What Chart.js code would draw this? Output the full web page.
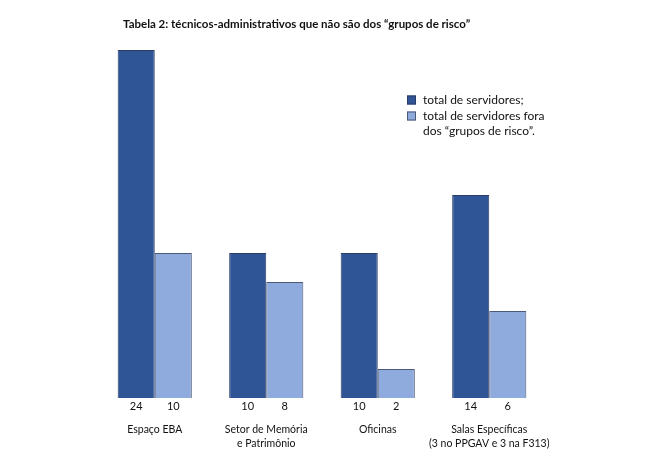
<!DOCTYPE html>
<html>
<head>
<meta charset="utf-8">
<script src="https://cdn.jsdelivr.net/npm/chart.js@4"></script>
<style>
  html, body { margin: 0; padding: 0; background: #fff; }
  #wrap { width: 663px; height: 474px; position: relative; }
</style>
</head>
<body>
<div id="wrap"><canvas id="chart" width="663" height="474"></canvas></div>
<script>
// Data
const categories = [
    ['Espaço EBA'],
    ['Setor de Memória', 'e Patrimônio'],
    ['Oficinas'],
    ['Salas Específicas', '(3 no PPGAV e 3 na F313)']
];
const totalServidores = [24, 10, 10, 14];
const foraGruposRisco = [10, 8, 2, 6];
const seriesLabels = [
    ['total de servidores;'],
    ['total de servidores fora', 'dos “grupos de risco”.']
];
const chartTitle = 'Tabela 2: técnicos-administrativos que não são dos “grupos de risco”';

const FONT = 'Lato, "Open Sans", sans-serif';
const TEXT_COLOR = '#111';

// Draws title, legend, value labels and category labels
const labelsPlugin = {
    id: 'labelsPlugin',
    afterDatasetsDraw(chart) {
        const ctx = chart.ctx;
        const xScale = chart.scales.x;
        const bottom = chart.chartArea.bottom;
        ctx.save();
        ctx.fillStyle = TEXT_COLOR;
        ctx.textBaseline = 'middle';

        // title
        ctx.font = 'bold 11.5px ' + FONT;
        ctx.textAlign = 'left';
        ctx.fillText(chartTitle, 123, 24);

        // value labels under each bar
        ctx.font = '11px ' + FONT;
        ctx.textAlign = 'center';
        chart.data.datasets.forEach((ds, i) => {
            const meta = chart.getDatasetMeta(i);
            meta.data.forEach((bar, j) => {
                ctx.fillText(String(ds.data[j]), bar.x, bottom + 8);
            });
        });

        // category labels
        ctx.font = '10.5px ' + FONT;
        chart.data.labels.forEach((lines, j) => {
            const x = xScale.getPixelForValue(j);
            lines.forEach((line, k) => {
                ctx.fillText(line, x, bottom + 32 + k * 14);
            });
        });

        // legend
        ctx.font = '12px ' + FONT;
        let y = 100;
        chart.data.datasets.forEach((ds, i) => {
            ctx.fillStyle = ds.backgroundColor;
            ctx.fillRect(407, y - 4.5, 9, 9);
            ctx.strokeStyle = ds.borderColor;
            ctx.lineWidth = 1;
            ctx.strokeRect(407.5, y - 4, 8, 8);
            ctx.fillStyle = TEXT_COLOR;
            ctx.textAlign = 'left';
            seriesLabels[i].forEach((line, k) => {
                ctx.fillText(line, 423, y + 0.5 + k * 14.5);
            });
            y += 16;
        });
        ctx.restore();
    }
};

new Chart(document.getElementById('chart'), {
    type: 'bar',
    data: {
        labels: categories,
        datasets: [
            {
                label: 'total de servidores',
                data: totalServidores,
                backgroundColor: '#2f5597',
                borderColor: '#2a3d66',
                borderWidth: 1,
                categoryPercentage: 0.665,
                barPercentage: 1
            },
            {
                label: 'total de servidores fora dos grupos de risco',
                data: foraGruposRisco,
                backgroundColor: '#8faadc',
                borderColor: '#4a5a78',
                borderWidth: 1,
                categoryPercentage: 0.665,
                barPercentage: 1
            }
        ]
    },
    options: {
        responsive: false,
        animation: false,
        layout: {
            padding: { left: 99, right: 118, top: 50, bottom: 76 }
        },
        plugins: {
            legend: { display: false },
            tooltip: { enabled: false },
            title: { display: false }
        },
        scales: {
            x: { display: false },
            y: { display: false, min: 0, max: 24 }
        }
    },
    plugins: [labelsPlugin]
});
</script>
</body>
</html>
